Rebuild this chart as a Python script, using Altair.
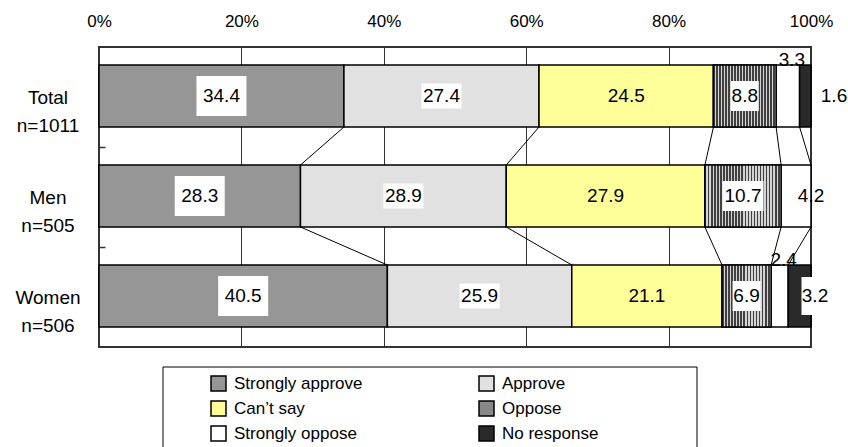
import altair as alt
import pandas as pd

# ---- survey values (percent of respondents) ---------------------------------
groups = ["Total", "Men", "Women"]
group_sizes = ["n=1011", "n=505", "n=506"]
categories = ["Strongly approve", "Approve", "Can’t say",
              "Oppose", "Strongly oppose", "No response"]
total_pct = [34.4, 27.4, 24.5, 8.8, 3.3, 1.6]
men_pct = [28.3, 28.9, 27.9, 10.7, 4.2, 0.0]
women_pct = [40.5, 25.9, 21.1, 6.9, 2.4, 3.2]
percent_ticks = [0, 20, 40, 60, 80, 100]

# ---- styling ------------------------------------------------------------------
FONT = "Liberation Sans"
fills = ["#969696", "#e1e1e1", "#ffff99", "#888888", "#ffffff", "#2a2a2a"]
W, H = 712, 300
BAR_TOP, BAR_BOTTOM, BAR_MID = 0.18, 0.80, 0.49   # fractions of one row band
STRIPE_PERIOD = 3.0                                # px between stripes

# ---- tidy segment table ---------------------------------------------------------
records = []
for r, (g, vals) in enumerate(zip(groups, [total_pct, men_pct, women_pct])):
    cum = 0.0
    for c, v in zip(categories, vals):
        end = round(cum + v, 1)
        records.append({"group": g, "row": r, "category": c, "value": v,
                        "start": cum, "end": end, "label": f"{v:.1f}"})
        cum = end
seg = pd.DataFrame(records)
seg["mid"] = (seg["start"] + seg["end"]) / 2
seg["top"] = seg["row"] + BAR_TOP
seg["bottom"] = seg["row"] + BAR_BOTTOM
seg["ymid"] = seg["row"] + BAR_MID


def placement(rec):
    v, c = rec["value"], rec["category"]
    if v <= 0:
        return "none"
    if v >= 5:
        return "inside"
    if c == "No response":
        return "right" if v < 2 else "edge"
    return "above" if v < 4 else "nudge"


def box_kind(rec):
    if rec["placement"] == "edge":
        return "tall"
    if rec["placement"] != "inside":
        return "none"
    if rec["category"] == "Strongly approve":
        return "big"
    if rec["category"] == "Approve":
        return "dot"
    if rec["category"] == "Oppose":
        return "wide" if len(rec["label"]) > 3 else "narrow"
    return "none"


seg["placement"] = seg.apply(placement, axis=1)
seg["box"] = seg.apply(box_kind, axis=1)
bars = seg[seg["value"] > 0]

# series lines joining matching boundaries of neighbouring bars
links = []
for r in range(len(groups) - 1):
    upper = seg[seg["row"] == r].reset_index(drop=True)
    lower = seg[seg["row"] == r + 1].reset_index(drop=True)
    for k in range(len(categories) - 1):
        links.append({"x_from": upper.loc[k, "end"], "x_to": lower.loc[k, "end"],
                      "y_from": r + BAR_BOTTOM, "y_to": r + 1 + BAR_TOP})
links = pd.DataFrame(links)

cats = pd.DataFrame({"row": range(len(groups)),
                     "text": [f"{g}\n{n}" for g, n in zip(groups, group_sizes)]})
cats["ymid"] = cats["row"] + BAR_MID

xs = alt.Scale(domain=[0, 100], nice=False, zero=False)
ys = alt.Scale(domain=[0, 3], nice=False, zero=False, reverse=True)


def X(field):
    return alt.X(f"{field}:Q", scale=xs, title=None)


def Y(field):
    return alt.Y(f"{field}:Q", scale=ys, title=None)


# ---- bars ------------------------------------------------------------------------
bar_layer = alt.Chart(bars).mark_bar(stroke="black", strokeWidth=1.5, opacity=1).encode(
    x=alt.X("start:Q", scale=xs, title=None,
            axis=alt.Axis(orient="top", values=percent_ticks,
                          labelExpr="datum.value + '%'", grid=True,
                          gridColor="#333333", gridWidth=1, ticks=False,
                          tickSize=0, domain=False, labelFontSize=17,
                          labelFont=FONT, labelColor="black", labelPadding=17,
                          labelFlush=False, labelOverlap=False)),
    x2="end:Q",
    y=alt.Y("top:Q", scale=ys, title=None,
            axis=alt.Axis(values=[1, 2], labels=False, domain=False, grid=False,
                          ticks=True, tickSize=6, tickColor="#333333",
                          tickWidth=1.5, offset=-6)),
    y2="bottom:Q",
    color=alt.Color("category:N",
                    scale=alt.Scale(domain=categories, range=fills),
                    legend=alt.Legend(title=None, orient="none", legendX=111,
                                      legendY=328, columns=2, direction="horizontal",
                                      columnPadding=113, rowPadding=4,
                                      symbolType="square",
                                      symbolSize=225, symbolStrokeColor="black",
                                      symbolStrokeWidth=1.5, symbolOpacity=1,
                                      labelFont=FONT, labelFontSize=17,
                                      labelOffset=7, labelColor="black",
                                      labelLimit=300, padding=0)),
)


def stripes(n, dark="#404040", light="#d4d4d4", share=0.5):
    stops = []
    for i in range(n):
        a, b = i / n, (i + share) / n
        stops += [alt.GradientStop(offset=a, color=dark),
                  alt.GradientStop(offset=b, color=dark),
                  alt.GradientStop(offset=b, color=light),
                  alt.GradientStop(offset=(i + 1) / n, color=light)]
    return alt.LinearGradient(gradient="linear", stops=stops,
                              x1=0, x2=1, y1=0, y2=0)


# vertical hatching for the "Oppose" segments
oppose_layers = []
for g in groups:
    v = float(bars[(bars["group"] == g) & (bars["category"] == "Oppose")]["value"].iloc[0])
    n = max(1, round(v * W / 100 / STRIPE_PERIOD))
    oppose_layers.append(
        alt.Chart(bars).transform_filter(
            (alt.datum.group == g) & (alt.datum.category == "Oppose")
        ).mark_bar(fill=stripes(n), stroke="black", strokeWidth=1.5, opacity=1).encode(
            x=X("start"), x2="end", y=Y("top"), y2="bottom")
    )

link_layer = alt.Chart(links).mark_rule(color="black", strokeWidth=1).encode(
    x=X("x_from"), x2="x_to", y=Y("y_from"), y2="y_to",
)

# white boxes behind the value labels
box_shapes = {
    "big": "M-2.5,-2L2.5,-2L2.5,2L-2.5,2Z",
    "dot": "M-2,-1.25L2,-1.25L2,1.25L-2,1.25Z",
    "wide": "M-2.05,-1.5L2.05,-1.5L2.05,1.5L-2.05,1.5Z",
    "narrow": "M-1.4,-1.5L1.4,-1.5L1.4,1.5L-1.4,1.5Z",
    "tall": "M-1.35,-1.9L1.35,-1.9L1.35,1.9L-1.35,1.9Z",
}
shape_scale = alt.Scale(domain=list(box_shapes), range=list(box_shapes.values()))


def boxes(place, x_field, x_off=0):
    return alt.Chart(seg).transform_filter(
        (alt.datum.placement == place) & (alt.datum.box != "none")
    ).mark_point(filled=True, color="white", opacity=1, strokeWidth=0,
                 size=400, xOffset=x_off).encode(
        x=X(x_field), y=Y("ymid"),
        shape=alt.Shape("box:N", scale=shape_scale, legend=None),
    )


def value_text(place, x_field, y_field="ymid", dx=0, dy=0, baseline="middle"):
    return alt.Chart(seg).transform_filter(alt.datum.placement == place).mark_text(
        font=FONT, fontSize=19, color="black", align="center",
        baseline=baseline, dx=dx, dy=dy,
    ).encode(x=X(x_field), y=Y(y_field), text="label:N")


cat_layer = alt.Chart(cats).mark_text(
    font=FONT, fontSize=19, color="black", align="center", baseline="middle",
    lineBreak="\n", lineHeight=28, dy=2,
).encode(x=alt.value(-51), y=Y("ymid"), text="text:N")

legend_frame = alt.Chart(pd.DataFrame({"k": [0]})).mark_rect(
    fillOpacity=0, stroke="black", strokeWidth=1,
).encode(x=alt.value(64), x2=alt.value(598), y=alt.value(320), y2=alt.value(430))

chart = alt.layer(
    bar_layer,
    legend_frame,
    *oppose_layers,
    link_layer,
    boxes("inside", "mid"),
    boxes("edge", "end", x_off=4),
    value_text("inside", "mid"),
    value_text("nudge", "mid", dx=15),
    value_text("above", "mid", y_field="top", dx=4, baseline="alphabetic", dy=1),
    value_text("right", "end", dx=23),
    value_text("edge", "end", dx=4),
    cat_layer,
).properties(
    width=W, height=H,
    padding={"left": 99, "top": 47, "right": 37, "bottom": 100},
    autosize=alt.AutoSizeParams(type="none"),
    background="white",
).configure_view(stroke="#333333", strokeWidth=2)

chart.save("out.html", embed_options={"renderer": "svg", "actions": False})
